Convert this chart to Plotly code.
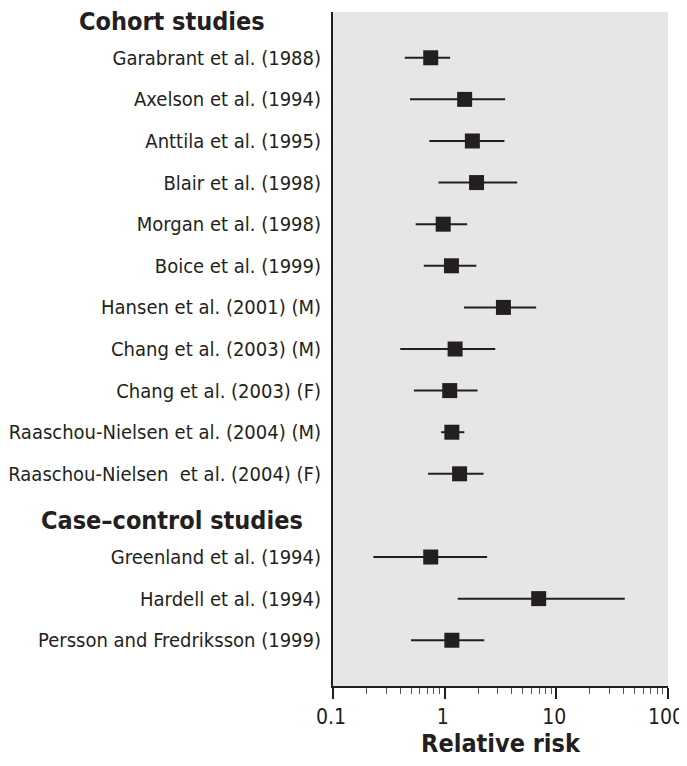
import plotly.graph_objects as go

studies = [
    "Garabrant et al. (1988)",
    "Axelson et al. (1994)",
    "Anttila et al. (1995)",
    "Blair et al. (1998)",
    "Morgan et al. (1998)",
    "Boice et al. (1999)",
    "Hansen et al. (2001) (M)",
    "Chang et al. (2003) (M)",
    "Chang et al. (2003) (F)",
    "Raaschou-Nielsen et al. (2004) (M)",
    "Raaschou-Nielsen  et al. (2004) (F)",
    "Greenland et al. (1994)",
    "Hardell et al. (1994)",
    "Persson and Fredriksson (1999)",
]
groups = ["Cohort studies"] * 11 + ["Case\u2013control studies"] * 3
rr = [0.75, 1.51, 1.77, 1.93, 0.97, 1.15, 3.36, 1.24, 1.11, 1.16, 1.36, 0.75, 6.95, 1.16]
lower = [0.44, 0.49, 0.73, 0.88, 0.55, 0.65, 1.49, 0.40, 0.53, 0.93, 0.71, 0.23, 1.31, 0.50]
upper = [1.12, 3.48, 3.43, 4.46, 1.59, 1.92, 6.60, 2.84, 1.97, 1.50, 2.23, 2.40, 41.0, 2.26]
x_ticks = [0.1, 1, 10, 100]
x_tick_text = ["0.1", "1", "10", "100"]

# build row order: header then studies in each group
rows = []
headers = []
for g, s in zip(groups, studies):
    if g not in headers:
        headers.append(g)
        rows.append(g)
    rows.append(s)

font_narrow = "DejaVu Sans Condensed, Liberation Sans Narrow, Arial Narrow, sans-serif"
ink = "#231f20"

fig = go.Figure()
fig.add_trace(go.Scatter(
    x=rr, y=studies, mode="markers",
    marker=dict(symbol="square", size=15, color=ink),
    error_x=dict(type="data", symmetric=False,
                 array=[u - r for u, r in zip(upper, rr)],
                 arrayminus=[r - l for r, l in zip(rr, lower)],
                 color=ink, thickness=2, width=0),
    showlegend=False, hoverinfo="x+y",
))

for h in headers:
    fig.add_annotation(x=-0.48, xref="paper", y=h, yref="y", text="<b>%s</b>" % h,
                       showarrow=False, xanchor="center", yanchor="middle", yshift=-5,
                       font=dict(family=font_narrow, size=25, color=ink))

# the page body adds an 8px margin on every side; size the figure so the plot
# lands where the reference's does and the page does not need a scrollbar
fig.update_layout(
    width=679, height=750,
    margin=dict(l=325, r=19, t=4, b=72),
    paper_bgcolor="white", plot_bgcolor="#e6e6e6",
    xaxis=dict(type="log", range=[-1, 2], tickvals=x_ticks, ticktext=x_tick_text,
               automargin=False, ticklabeloverflow="allow", ticklabelshift=-2,
               ticks="outside", ticklen=11, tickwidth=1.5, tickcolor=ink,
               showline=True, linecolor=ink, linewidth=2, showgrid=False, zeroline=False,
               minor=dict(ticks="outside", ticklen=6, tickwidth=1.2, tickcolor="#555",
                          dtick="D1", showgrid=False),
               tickfont=dict(family=font_narrow, size=21, color=ink),
               title=dict(text="<b>Relative risk</b>", standoff=4,
                          font=dict(family=font_narrow, size=25, color=ink))),
    yaxis=dict(type="category", categoryorder="array", categoryarray=rows,
               range=[len(rows) + 0.1, -0.1], tickvals=studies, ticktext=studies,
               automargin=False,
               showline=True, linecolor=ink, linewidth=2, showgrid=False,
               ticks="", ticklabelstandoff=6,
               tickfont=dict(family=font_narrow, size=20, color=ink)),
)

fig.write_html("out.html")
